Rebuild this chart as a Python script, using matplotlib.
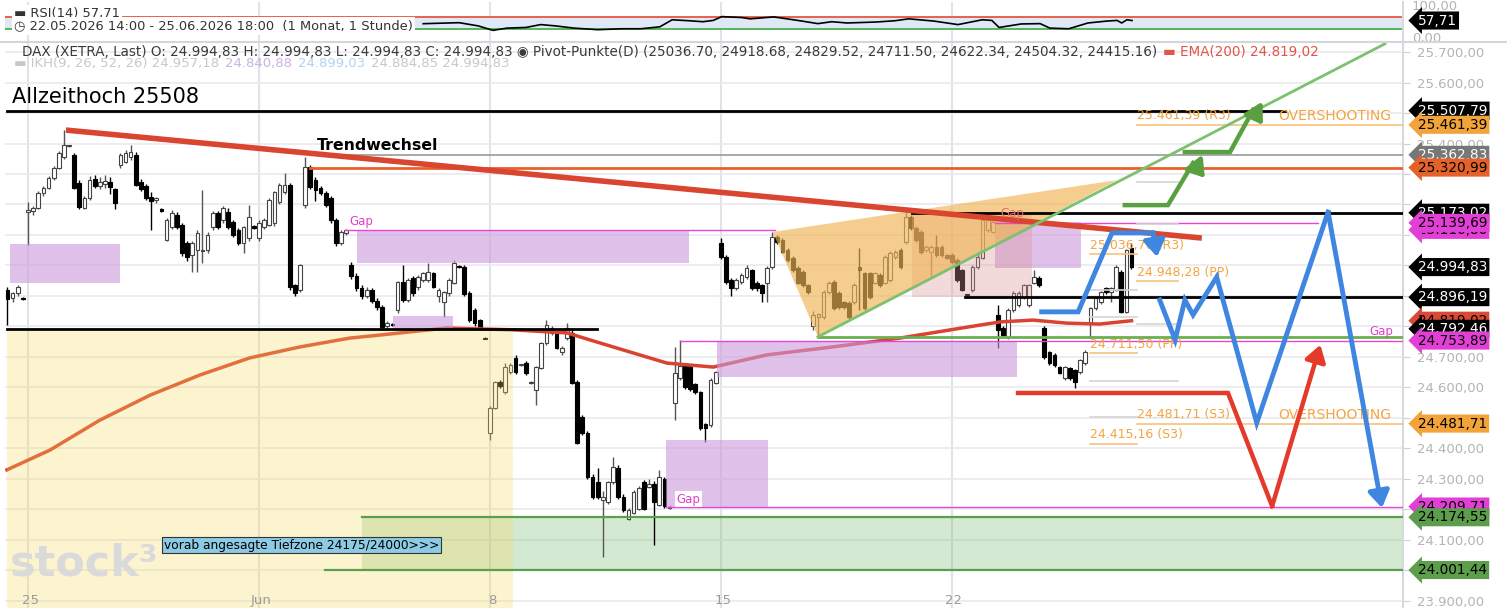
import matplotlib
matplotlib.use("Agg")
import matplotlib.pyplot as plt
from matplotlib.patches import Polygon
from matplotlib.transforms import blended_transform_factory
from matplotlib.ticker import FuncFormatter

# hourly DAX candles (open, high, low, close), one list per XETRA day (9:00-17:00)
may22 = [(24920, 24930, 24805, 24890), (24893, 24912, 24880, 24910), (24910, 24935, 24900, 24930), (24892, 24896, 24888, 24890)]
may25 = [(25175, 25208, 25067, 25182), (25180, 25195, 25165, 25190), (25190, 25245, 25185, 25238), (25238, 25262, 25228, 25255), (25255, 25292, 25250, 25287), (25287, 25325, 25280, 25320), (25320, 25375, 25315, 25368), (25356, 25444, 25350, 25395), (25392, 25395, 25388, 25392)]
may26 = [(25362, 25370, 25250, 25253), (25270, 25280, 25185, 25193), (25190, 25228, 25185, 25221), (25221, 25295, 25215, 25280), (25285, 25298, 25255, 25262), (25262, 25290, 25250, 25275), (25268, 25298, 25255, 25278), (25275, 25290, 25235, 25257), (25250, 25255, 25185, 25205)]
may27 = [(25330, 25370, 25320, 25362), (25340, 25378, 25335, 25370), (25355, 25395, 25345, 25372), (25362, 25372, 25260, 25265), (25275, 25285, 25245, 25250), (25260, 25268, 25215, 25220), (25225, 25240, 25116, 25210), (25215, 25225, 25205, 25220), (25185, 25190, 25175, 25178)]
may28 = [(25084, 25155, 25080, 25149), (25126, 25182, 25120, 25172), (25166, 25175, 25120, 25126), (25133, 25140, 25030, 25041), (25074, 25080, 25015, 25028), (25035, 25080, 24979, 25074), (25051, 25115, 24979, 25107), (25048, 25247, 25008, 25052), (25051, 25110, 25040, 25100)]
may29 = [(25126, 25180, 25115, 25172), (25172, 25178, 25120, 25126), (25149, 25195, 25140, 25188), (25175, 25188, 25120, 25126), (25142, 25150, 25095, 25100), (25116, 25122, 25068, 25074), (25074, 25130, 25040, 25126), (25090, 25198, 25080, 25160), (25128, 25132, 25120, 25123)]
jun01 = [(25090, 25150, 25080, 25139), (25126, 25155, 25120, 25149), (25133, 25220, 25128, 25215), (25139, 25245, 25130, 25241), (25208, 25270, 25200, 25264), (25241, 25303, 25235, 25264), (25264, 25270, 24920, 24930), (24936, 24940, 24900, 24910), (24920, 25005, 24912, 25002)]
jun02 = [(25198, 25356, 25190, 25323), (25323, 25330, 25250, 25257), (25280, 25290, 25210, 25248), (25254, 25262, 25230, 25238), (25238, 25245, 25192, 25198), (25221, 25228, 25140, 25149), (25149, 25155, 25065, 25074), (25074, 25115, 25068, 25110), (25107, 25120, 25100, 25116)]
jun03 = [(25000, 25010, 24955, 24965), (24965, 24975, 24918, 24925), (24925, 24935, 24890, 24900), (24900, 24928, 24892, 24920), (24920, 24925, 24878, 24885), (24885, 24892, 24855, 24865), (24864, 24870, 24792, 24798), (24800, 24818, 24790, 24812), (24808, 24812, 24800, 24805)]
jun04 = [(24854, 24950, 24845, 24946), (24946, 25002, 24880, 24887), (24887, 24958, 24880, 24952), (24958, 24965, 24900, 24909), (24930, 24968, 24920, 24962), (24952, 24980, 24945, 24974), (24952, 25007, 24945, 24980), (24974, 24980, 24925, 24930), (24900, 24925, 24880, 24920)]
jun05 = [(24880, 24918, 24830, 24913), (24909, 24958, 24900, 24952), (24943, 25018, 24938, 25007), (24998, 25002, 24992, 24996), (24996, 25002, 24900, 24905), (24909, 24915, 24815, 24820), (24854, 24860, 24800, 24811), (24820, 24826, 24790, 24799), (24762, 24766, 24758, 24760)]
jun08 = [(24451, 24540, 24428, 24533), (24533, 24622, 24528, 24618), (24618, 24625, 24598, 24605), (24585, 24680, 24580, 24667), (24651, 24680, 24645, 24674), (24697, 24705, 24645, 24651), (24674, 24678, 24670, 24674), (24680, 24688, 24640, 24648), (24615, 24622, 24612, 24618)]
jun09 = [(24592, 24672, 24543, 24667), (24664, 24750, 24660, 24746), (24746, 24821, 24740, 24805), (24779, 24800, 24772, 24795), (24779, 24785, 24725, 24730), (24715, 24735, 24707, 24730), (24762, 24812, 24755, 24795), (24779, 24795, 24610, 24615), (24618, 24625, 24415, 24418)]
jun10 = [(24503, 24510, 24445, 24451), (24451, 24458, 24300, 24307), (24307, 24315, 24235, 24241), (24290, 24336, 24235, 24241), (24230, 24262, 24044, 24240), (24225, 24295, 24218, 24290), (24290, 24372, 24285, 24340), (24336, 24345, 24235, 24241), (24241, 24250, 24192, 24198)]
jun11 = [(24170, 24205, 24165, 24198), (24190, 24265, 24185, 24258), (24203, 24278, 24198, 24270), (24290, 24296, 24198, 24203), (24275, 24300, 24270, 24282), (24285, 24292, 24084, 24225), (24215, 24330, 24210, 24307), (24300, 24308, 24205, 24210), (24205, 24215, 24200, 24208)]
jun12 = [(24549, 24733, 24493, 24648), (24630, 24757, 24625, 24670), (24670, 24675, 24595, 24600), (24670, 24675, 24590, 24595), (24610, 24615, 24580, 24585), (24585, 24590, 24462, 24467), (24480, 24485, 24421, 24467), (24477, 24630, 24470, 24625), (24615, 24655, 24610, 24650)]
jun15 = [(25074, 25090, 25020, 25028), (25028, 25035, 24940, 24946), (24952, 24958, 24900, 24926), (24926, 24958, 24920, 24952), (24946, 24975, 24940, 24969), (24962, 25000, 24955, 24992), (24985, 24990, 24920, 24926), (24943, 24948, 24915, 24926), (24936, 24940, 24880, 24910)]
jun16 = [(24943, 24998, 24880, 24992), (24995, 25110, 24990, 25093), (25093, 25100, 25070, 25077), (25084, 25090, 25040, 25044), (25051, 25056, 25012, 25018), (25025, 25030, 24980, 24985), (24992, 24998, 24938, 24943), (24979, 24984, 24930, 24936), (24936, 24940, 24905, 24913)]
jun17 = [(24800, 24850, 24790, 24838), (24830, 24845, 24766, 24840), (24831, 24920, 24825, 24913), (24913, 24950, 24908, 24943), (24946, 24952, 24855, 24861), (24910, 24915, 24858, 24864), (24880, 24885, 24858, 24864), (24877, 24882, 24825, 24831), (24880, 24942, 24875, 24936)]
jun18 = [(24995, 25057, 24854, 24985), (24975, 24980, 24855, 24861), (24975, 24980, 24890, 24897), (24943, 24980, 24938, 24975), (24969, 24975, 24930, 24936), (24943, 25033, 24938, 25028), (24952, 25046, 24945, 25041), (25028, 25050, 25022, 25044), (25051, 25058, 24990, 24995)]
jun19 = [(25077, 25175, 25070, 25159), (25159, 25165, 25118, 25123), (25123, 25128, 25078, 25084), (25110, 25115, 25038, 25044), (25051, 25066, 25045, 25061), (25044, 25066, 24959, 25061), (25061, 25100, 25028, 25034), (25061, 25066, 25028, 25034), (25034, 25038, 25020, 25025)]
jun22 = [(25034, 25040, 25005, 25011), (25018, 25024, 24946, 24952), (24985, 24990, 24915, 24920), (24905, 24908, 24900, 24903), (24920, 25000, 24914, 24995), (24995, 25044, 24990, 25028), (25025, 25175, 25020, 25149), (25116, 25155, 25110, 25149), (25110, 25148, 25105, 25142)]
jun23 = [(24838, 24870, 24730, 24789), (24795, 24800, 24765, 24772), (24766, 24860, 24760, 24854), (24854, 24915, 24848, 24910), (24870, 24915, 24865, 24910), (24897, 24940, 24890, 24936), (24870, 24940, 24865, 24936), (24943, 24985, 24938, 24962), (24959, 24964, 24930, 24936)]
jun24 = [(24795, 24800, 24695, 24700), (24716, 24720, 24675, 24680), (24707, 24712, 24668, 24674), (24667, 24672, 24643, 24648), (24631, 24672, 24625, 24667), (24664, 24668, 24626, 24631), (24658, 24662, 24598, 24618), (24651, 24695, 24645, 24690), (24680, 24722, 24675, 24716)]
jun25 = [(24811, 24865, 24766, 24860), (24860, 24898, 24855, 24893), (24880, 24918, 24875, 24913), (24926, 24930, 24908, 24913), (24913, 24930, 24880, 24926), (24920, 25000, 24915, 24995), (24979, 24985, 24843, 24848), (24848, 25055, 24843, 25051), (25057, 25074, 24990, 24994.83)]
days = [may22, may25, may26, may27, may28, may29, jun01, jun02, jun03, jun04, jun05,
        jun08, jun09, jun10, jun11, jun12, jun15, jun16, jun17, jun18, jun19,
        jun22, jun23, jun24, jun25]

# time positions below are hour bars counted from 25.05. 09:00
date_ticks = [0, 45, 90, 135, 180]
date_labels = ["25", "Jun", "8", "15", "22"]

ema_bar = [-4.1, 4.3, 14, 23.8, 33.5, 43.2, 53, 62.7, 68.6, 81.6, 94.5, 105, 114, 124.5,
           133.5, 144, 156.8, 169.9, 183, 189.4, 195.8, 202.4, 208.8, 215]
ema_val = [24330, 24395, 24493, 24575, 24641, 24697, 24733, 24762, 24772, 24795, 24789, 24779,
           24733, 24680, 24667, 24707, 24733, 24762, 24798, 24815, 24821, 24811, 24808, 24819]

rsi_bar = [77.0, 84.0, 87.7, 90.6, 93.3, 97.0, 99.9, 102.7, 106.4, 111.0, 115.7, 119.4, 123.1,
           125.5, 128.8, 131.5, 133.5, 135.2, 139.1, 140.7, 145.3, 150.0, 153.9, 156.6, 159.6,
           165.2, 168.9, 171.6, 176.5, 181.2, 185.9, 187.8, 189.2, 193.5, 197.2, 199.1, 202.8,
           206.5, 210.2, 212.2, 213.1, 214.1, 215.1]
rsi_val = [47.8, 51, 41, 27, 34, 36, 45, 41, 34, 29, 32, 32, 38, 60, 57, 54, 58, 70, 67, 63, 69,
           58, 48, 54, 50, 53, 57, 63, 56, 45, 60, 58, 36, 47, 48, 34, 32, 50, 56, 58, 50, 60, 57.71]

pivots_today = [25036.70, 24918.68, 24829.52, 24711.50, 24622.34, 24504.32, 24415.16]
pivots_next = [25461.39, 25274.84, 25134.83, 24948.28, 24808.27, 24621.72, 24481.71]
pivot_names = ["R3", "R2", "R1", "PP", "S1", "S2", "S3"]

# gap boxes: (start bar, end bar, low, high)
gap_boxes = [(-3.5, 17.9, 24943, 25070), (64.1, 128.8, 25008, 25116.8), (71.1, 82.8, 24795, 24834),
             (134.2, 192.7, 24634, 24754), (124.3, 144.2, 24208, 24428), (188.4, 205.1, 24992, 25143)]
gap_lines = [(25116.80, 61.8, 145.5), (24753.89, 127.0, 268), (24209.71, 124.3, 268), (25139.69, 188.4, 251.3)]
pink_box = (172.2, 195.6, 24896, 25173)
wedge_bar = [145.1, 153.9, 212.2]
wedge_val = [25110, 24766, 25280]
trend_up_bar, trend_up_val = [153.9, 264.4], [24766, 25727]
trend_down_bar, trend_down_val = [7.4, 228.7], [25444, 25090]

ath = 25507.79
black_levels = [(25507.79, -4.1, 244.9), (24792.46, -4.1, 110.9), (25173.02, 172.2, 268), (24896.19, 182.5, 268)]
res_red, res_grey = 25320.99, 25362.83
green_level = 24766
low_zone = (24001.44, 24174.55)

blue1_bar, blue1_val = [197.5, 204.6, 211.2, 219.2, 220.0], [24848, 24848, 25107, 25107, 25028]
blue2_bar = [220.5, 223.5, 225.4, 227.0, 231.6, 239.4, 253.3, 263.8]
blue2_val = [24887, 24756, 24887, 24838, 24962, 24484, 25175, 24205]
red_bar, red_val = [192.9, 233.8, 242.4, 251.8], [24582, 24582, 24211, 24740]
green1_bar, green1_val = [213.7, 222.1, 227.0, 229.3], [25198, 25198, 25336, 25287]
green2_bar, green2_val = [225.4, 234.2, 238.7, 240.6], [25372, 25372, 25510, 25461]

tag_prices = [25507.79, 25461.39, 25362.83, 25320.99, 25173.02, 25116.80, 25139.69, 24994.83,
              24896.19, 24819.02, 24792.46, 24753.89, 24481.71, 24209.71, 24174.55, 24001.44]


def de(v):
    s = f"{v:,.2f}"
    return s.replace(",", " ").replace(".", ",").replace(" ", ".")


W, H = 1507, 608
fig = plt.figure(figsize=(W / 100, H / 100), dpi=100)
X0, X1 = -4.48, 267.9
Y0, Y1 = 23877.0, 25732.8

ax = fig.add_axes([5 / W, 0, 1398 / W, 566 / H])
ax.set_xlim(X0, X1)
ax.set_ylim(Y0, Y1)
rax = fig.add_axes([5 / W, 1 - 42 / H, 1398 / W, 40 / H])
rax.set_xlim(X0, X1)
rax.set_ylim(-9.4, 115.6)

for a in (ax, rax):
    for s in ("top", "left", "bottom"):
        a.spines[s].set_visible(False)
    a.spines["right"].set_color("#d8d8e0")
    a.spines["right"].set_linewidth(1.5)
    a.set_xticks([])
    for t in date_ticks:
        a.axvline(t, color="#e2e2ea", lw=1.5, zorder=0)

# price grid and right axis (labels hidden where a price tag sits on top of them)
grid_prices = list(range(23900, 25800, 100))
for p in grid_prices:
    ax.axhline(p, color="#e9e9ef", lw=1.2, zorder=0)
ax.yaxis.tick_right()
ax.set_yticks(grid_prices)
ax.yaxis.set_major_formatter(FuncFormatter(
    lambda v, _: "" if min(abs(v - t) for t in tag_prices) < 30 else de(v)))
ax.tick_params(axis="y", length=5, color="#cfcfd6", labelcolor="#b4b4b4", labelsize=9.5, pad=5)
rax.set_yticks([])

# zones under candles
ax.fill_between([65.1, X1], low_zone[0], low_zone[1], color=(115/255, 185/255, 105/255), alpha=0.3, lw=0, zorder=1)

# candles
for d, day in enumerate(days, start=-1):
    start = 9 - len(day) if d == -1 else 0
    for j, (o, h, l, c) in enumerate(day):
        b = 9 * d + start + j
        up = c >= o
        ax.vlines(b, l, h, color="#555555" if up else "black", lw=1, zorder=2)
        ax.bar(b, max(abs(c - o), 3), bottom=min(o, c), width=0.72,
               color="white" if up else "black", edgecolor="#444444" if up else "black",
               lw=0.8, zorder=2.1)

ax.plot(ema_bar, ema_val, color="#d9432f", lw=2.5, zorder=2.5)

ax.fill_between([-4.1, 94.5], Y0, 24792.46, color=(248/255, 218/255, 98/255), alpha=0.3, lw=0, zorder=3)
for b0, b1, lo, hi in gap_boxes:
    ax.fill_between([b0, b1], lo, hi, color=(203/255, 153/255, 220/255), alpha=0.6, lw=0, zorder=3)
ax.fill_between([pink_box[0], pink_box[1]], pink_box[2], pink_box[3], color=(218/255, 149/255, 149/255),
                alpha=0.35, lw=0, zorder=3)
ax.add_patch(Polygon(list(zip(wedge_bar, wedge_val)), closed=True, fc=(240/255, 181/255, 84/255),
                     alpha=0.65, lw=0, zorder=3.1))

# levels
for p, b0, b1 in gap_lines:
    ax.plot([b0, b1], [p, p], color="#e845d8", lw=1, zorder=4)
for p, b0, b1 in black_levels:
    ax.plot([b0, b1], [p, p], color="black", lw=2, zorder=4)
ax.plot([54.9, X1], [res_grey, res_grey], color="#9a9a9a", lw=1.2, zorder=4)
ax.plot([54.9, X1], [res_red, res_red], color="#e8602c", lw=2, zorder=4)
ax.plot([153.9, X1], [green_level, green_level], color="#6ab04c", lw=2, zorder=4)
ax.plot([65.1, X1], [low_zone[1]] * 2, color="#5a9e50", lw=1.6, zorder=4)
ax.plot([57.9, X1], [low_zone[0]] * 2, color="#5a9e50", lw=1.6, zorder=4)
ax.plot(trend_down_bar, trend_down_val, color="#d9452f", lw=4, zorder=4.5, solid_capstyle="butt")
ax.plot(trend_up_bar, trend_up_val, color="#7cc070", lw=2, zorder=4.5)

# pivot points
for i, (pt, pn) in enumerate(zip(pivots_today, pivots_next)):
    key = pivot_names[i] in ("R3", "PP", "S3")
    col = "#f7c17a" if key else "#d4d4d4"
    ax.plot([207, 216], [pt, pt], color=col, lw=1.2, zorder=4)
    ax.plot([216, X1 if pivot_names[i] in ("R3", "S3") else 224], [pn, pn], color=col, lw=1.2, zorder=4)
    if key:
        ax.text(207, pt + 8, de(pt) + f" ({pivot_names[i]})", color="#f2a541", fontsize=9, va="bottom", zorder=5)
        ax.text(216, pn + 8, de(pn) + f" ({pivot_names[i]})", color="#f2a541", fontsize=9, va="bottom", zorder=5)
for p in (pivots_next[0], pivots_next[6]):
    ax.text(243.5, p + 6, "OVERSHOOTING", color="#f2a541", fontsize=10, va="bottom", zorder=5)


def scenario(xs, ys, color, lw):
    ax.plot(xs[:-1], ys[:-1], color=color, lw=lw, zorder=6, solid_joinstyle="miter")
    ax.annotate("", xy=(xs[-1], ys[-1]), xytext=(xs[-2], ys[-2]), zorder=6,
                arrowprops=dict(arrowstyle="-|>,head_length=0.7,head_width=0.45", color=color,
                                lw=lw, shrinkA=0, shrinkB=0, mutation_scale=14))


scenario(blue1_bar, blue1_val, "#3f86e0", 3.5)
scenario(blue2_bar, blue2_val, "#3f86e0", 3.5)
scenario(red_bar, red_val, "#e53a2a", 3.2)
scenario(green1_bar, green1_val, "#5aa040", 3.2)
scenario(green2_bar, green2_val, "#5aa040", 3.2)

# labels inside chart
ax.text(-3.1, ath + 12, "Allzeithoch 25508", fontsize=15, va="bottom", zorder=6)
ax.text(56.3, 25392, "Trendwechsel", fontsize=11.3, fontweight="bold", va="center", zorder=6)
ax.text(62.7, 25122, "Gap", color="#e040c8", fontsize=8.5, va="bottom", zorder=6)
ax.text(189.4, 25150, "Gap", color="#e86b6b", fontsize=8.5, va="bottom", zorder=6)
ax.text(261.4, 24762, "Gap", color="#e040c8", fontsize=8.5, va="bottom", zorder=6)
ax.text(126.4, 24234, "Gap", color="#e040c8", fontsize=8.5, va="center", zorder=6,
        bbox=dict(fc="white", ec="none", pad=1))
fig.text(10 / W, 1 - 563 / H, "stock³", fontsize=31, fontweight="bold", color="#dadada", va="center", zorder=6.5)
fig.text(164 / W, 1 - 545 / H, "vorab angesagte Tiefzone 24175/24000>>>", fontsize=8.8, va="center",
         bbox=dict(boxstyle="square,pad=0.15", fc="#8dcbe5", ec="#333333", lw=0.8), zorder=7)
for t, lab in zip(date_ticks, date_labels):
    ax.text(t + 0.4, 0.013, lab, transform=blended_transform_factory(ax.transData, ax.transAxes),
            ha="center", va="center", color="#9a9a9a", fontsize=9.5, zorder=7)

# price tags on the right axis
tag_styles = [("black", "white"), ("#f2a33a", "black"), ("#777777", "white"), ("#e4622a", "black"),
              ("black", "white"), ("#e33fd6", "black"), ("#e33fd6", "black"), ("black", "white"),
              ("black", "white"), ("#d94a36", "black"), ("black", "white"), ("#e33fd6", "black"),
              ("#f2a33a", "black"), ("#e33fd6", "black"), ("#5c9e4c", "black"), ("#5c9e4c", "black")]
tr = blended_transform_factory(fig.transFigure, ax.transData)
for p, (bg, fg) in zip(tag_prices, tag_styles):
    ax.text(1418 / W, p, de(p), transform=tr, color=fg, fontsize=9.8, va="center", ha="left",
            clip_on=False, zorder=10,
            bbox=dict(boxstyle="larrow,pad=0.15", fc=bg, ec="none"))

# RSI panel
rax.fill_between([X0, X1], 30, 70, color="#dfe9f5", lw=0, zorder=0.5)
rax.axhline(70, color="#e8553f", lw=1.3, zorder=1)
rax.axhline(30, color="#4cae4f", lw=1.3, zorder=1)
rax.plot(rsi_bar, rsi_val, color="black", lw=1.2, zorder=2)
rtr = blended_transform_factory(fig.transFigure, rax.transData)
rax.text(1412 / W, 100, "100,00", transform=rtr, color="#b4b4b4", fontsize=9.5, va="center", clip_on=False)
rax.text(1412 / W, 0, "0,00", transform=rtr, color="#b4b4b4", fontsize=9.5, va="center", clip_on=False)
rax.text(1418 / W, rsi_val[-1], de(rsi_val[-1]), transform=rtr, color="white", fontsize=9.8,
         va="center", clip_on=False, zorder=10, bbox=dict(boxstyle="larrow,pad=0.15", fc="black", ec="none"))
fig.text(14 / W, 1 - 14 / H, "▬ RSI(14) 57,71", fontsize=9.4, color="#333333", va="center",
         bbox=dict(fc="white", ec="none", pad=1.5), zorder=8)
fig.text(14 / W, 1 - 26 / H, "◷ 22.05.2026 14:00 - 25.06.2026 18:00  (1 Monat, 1 Stunde)", fontsize=9.4,
         color="#333333", va="center", bbox=dict(fc="white", ec="none", pad=1.5), zorder=8)
fig.add_artist(plt.Line2D([0, 1], [1 - 42 / H] * 2, color="#d5d5dc", lw=1.5))

# legend header lines
renderer = fig.canvas.get_renderer()


def chain(pieces, x_px, y_px, size):
    for s, c in pieces:
        t = fig.text(x_px / W, 1 - y_px / H, s, color=c, fontsize=size, va="center", zorder=8)
        x_px = t.get_window_extent(renderer=renderer).x1 + 6


chain([("DAX (XETRA, Last) O: 24.994,83 H: 24.994,83 L: 24.994,83 C: 24.994,83 ◉ Pivot-Punkte(D) "
        "(25036.70, 24918.68, 24829.52, 24711.50, 24622.34, 24504.32, 24415.16)", "#3a3a3a"),
       ("▬ EMA(200) 24.819,02", "#e05545")], 22, 52, 9.75)
chain([("▬ IKH(9, 26, 52, 26) 24.957,18", "#c8c8c8"), ("24.840,88", "#c9b3e3"),
       ("24.899,03", "#b3d3ef"), ("24.884,85 24.994,83", "#c8c8c8")], 14, 63, 9.5)

fig.savefig("out.png", dpi=100)
